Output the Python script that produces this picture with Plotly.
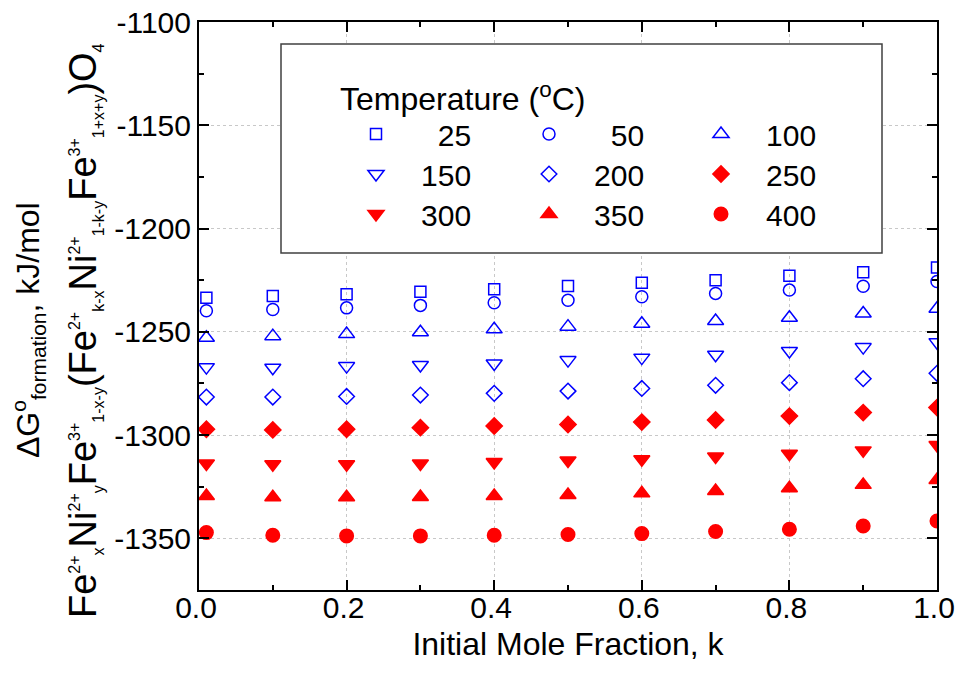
import plotly.graph_objects as go

# ---------------- data ----------------
k = [0.01, 0.1, 0.2, 0.3, 0.4, 0.5, 0.6, 0.7, 0.8, 0.9, 1.0]
g25 = [-1233.5, -1232.7, -1231.8, -1230.6, -1229.4, -1227.8, -1226.3, -1225.0, -1222.9, -1221.1, -1218.9]
g50 = [-1239.8, -1239.2, -1238.4, -1237.2, -1235.9, -1234.7, -1233.0, -1231.4, -1229.8, -1227.9, -1225.6]
g100 = [-1252.9, -1252.1, -1251.1, -1250.2, -1248.8, -1247.5, -1246.1, -1244.8, -1243.2, -1241.1, -1238.8]
g150 = [-1267.1, -1267.4, -1266.6, -1266.1, -1265.3, -1263.7, -1262.5, -1261.1, -1259.3, -1257.4, -1255.0]
g200 = [-1281.6, -1281.6, -1281.3, -1280.6, -1279.8, -1278.7, -1277.4, -1275.9, -1274.6, -1272.7, -1270.1]
g250 = [-1297.2, -1297.5, -1297.2, -1296.4, -1295.6, -1294.9, -1293.7, -1292.7, -1290.8, -1289.1, -1286.7]
g300 = [-1313.8, -1314.1, -1314.1, -1313.8, -1313.0, -1312.3, -1311.7, -1310.4, -1309.0, -1307.4, -1304.8]
g350 = [-1329.5, -1330.1, -1330.1, -1330.0, -1329.5, -1329.0, -1328.2, -1327.1, -1325.7, -1324.1, -1321.7]
g400 = [-1347.2, -1348.5, -1348.8, -1348.8, -1348.5, -1348.1, -1347.7, -1346.7, -1345.6, -1344.0, -1341.6]

temps = ["25", "50", "100", "150", "200", "250", "300", "350", "400"]
series = [g25, g50, g100, g150, g200, g250, g300, g350, g400]

x_tickvals = [0.0, 0.2, 0.4, 0.6, 0.8, 1.0]
x_ticktext = ["0.0", "0.2", "0.4", "0.6", "0.8", "1.0"]
y_tickvals = [-1350, -1300, -1250, -1200, -1150, -1100]
y_ticktext = ["-1350", "-1300", "-1250", "-1200", "-1150", "-1100"]

# ---------------- styles ----------------
BLUE = "#0000FF"
RED = "#FF0000"
FONT = "Liberation Sans, Arial, sans-serif"
styles = [
    dict(symbol="square-open", size=11, color=BLUE),
    dict(symbol="circle-open", size=12, color=BLUE),
    dict(symbol="triangle-up-open", size=14, color=BLUE),
    dict(symbol="triangle-down-open", size=14, color=BLUE),
    dict(symbol="diamond-open", size=12, color=BLUE),
    dict(symbol="diamond", size=12.5, color=RED),
    dict(symbol="triangle-down", size=14, color=RED),
    dict(symbol="triangle-up", size=14, color=RED),
    dict(symbol="circle", size=13.5, color=RED),
]

L, R, T, B = 199, 19, 22, 94
W, H = 956, 684
PW, PH = W - L - R, H - T - B


def px_x(px):
    return (px - L) / PW


def px_y(py):
    return (H - B - py) / PH


FS = "\u2007"   # figure space (digit width)
PS = "\u2008"   # punctuation space
legend_cols = [356, 529, 701]
legend_rows = [138, 178, 218]
legend_layouts = {}
fig = go.Figure()
for i, (t, vals, st) in enumerate(zip(temps, series, styles)):
    pad = FS * (3 - len(t)) + FS + PS
    lid = "legend" if i == 0 else "legend%d" % (i + 1)
    legend_layouts[lid] = dict(
        x=px_x(legend_cols[i % 3]), y=px_y(legend_rows[i // 3] - 30),
        xanchor="left", yanchor="top", orientation="v",
        bgcolor="rgba(0,0,0,0)", borderwidth=0,
        font=dict(family=FONT, size=30, color="black"),
    )
    fig.add_trace(go.Scatter(
        x=k, y=vals, mode="markers", name=pad + t, legend=lid,
        marker=dict(symbol=st["symbol"], size=st["size"], color=st["color"],
                    line=dict(width=1.5, color=st["color"])),
    ))

axis_common = dict(
    showline=True, linecolor="black", linewidth=2, mirror="ticks",
    ticks="inside", ticklen=10, tickwidth=2, tickcolor="black",
    showgrid=True, gridcolor="#c8c8c8", griddash="dot", gridwidth=1,
    zeroline=False, automargin=False, ticklabeloverflow="allow",
    tickfont=dict(family=FONT, size=30, color="black"),
)

fig.update_xaxes(
    range=[0, 1], tickmode="array", tickvals=x_tickvals, ticktext=x_ticktext,
    minor=dict(dtick=0.1, ticks="inside", ticklen=5, tickwidth=2, tickcolor="black", showgrid=False),
    ticklabelstandoff=-10, ticklabelshift=-3,
    title=dict(text="Initial Mole Fraction, k", font=dict(family=FONT, size=32, color="black"), standoff=10),
    **axis_common,
)
fig.update_yaxes(
    range=[-1375, -1100], tickmode="array", tickvals=y_tickvals, ticktext=y_ticktext,
    minor=dict(dtick=25, tick0=-1375, ticks="inside", ticklen=5, tickwidth=2, tickcolor="black", showgrid=False),
    ticklabelstandoff=0,
    **axis_common,
)

# legend frame
fig.add_shape(type="rect", xref="paper", yref="paper",
              x0=px_x(281), x1=px_x(882), y0=px_y(253), y1=px_y(44),
              line=dict(color="#404040", width=1.5), fillcolor="white", layer="above")

fig.add_annotation(text="Temperature (<sup>o</sup>C)", xref="paper", yref="paper",
                   x=px_x(338), y=px_y(97), xanchor="left", yanchor="middle", showarrow=False,
                   font=dict(family=FONT, size=32, color="black"))


def sup(s, fs=16):
    return '<sup><span style="font-size:%dpx">%s</span></sup>' % (fs, s)


def sub(s, fs=16):
    return '<sub><span style="font-size:%dpx">%s</span></sub>' % (fs, s)


line1 = "\u0394G" + sup("o", 21) + sub("formation", 21) + ", kJ/mol"
line2 = ("Fe" + sup("2+") + sub("x") + "Ni" + sup("2+") + sub("y") + "Fe" + sup("3+") + sub("1-x-y")
         + "(Fe" + sup("2+") + sub("k-x") + "Ni" + sup("2+") + sub("1-k-y") + "Fe" + sup("3+") + sub("1+x+y")
         + ")O" + sub("4"))
fig.add_annotation(text=line1, xref="paper", yref="paper", x=px_x(29), y=px_y(330),
                   xanchor="center", yanchor="middle", textangle=-90, showarrow=False,
                   font=dict(family=FONT, size=32, color="black"))
fig.add_annotation(text=line2, xref="paper", yref="paper", x=px_x(84), y=px_y(331),
                   xanchor="center", yanchor="middle", textangle=-90, showarrow=False,
                   font=dict(family=FONT, size=38, color="black"))

fig.update_layout(
    width=W, height=H,
    margin=dict(l=L, r=R, t=T, b=B),
    paper_bgcolor="white", plot_bgcolor="white",
    showlegend=True,
    **legend_layouts,
)

fig.write_html("out.html", config={"displayModeBar": False},
               post_script="document.body.style.margin='0px';document.body.style.padding='0px';")
